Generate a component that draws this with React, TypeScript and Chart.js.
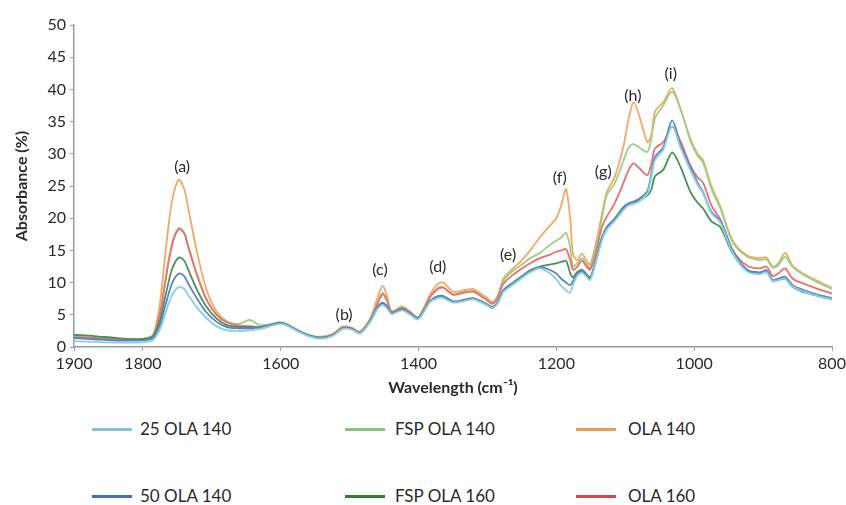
import React, { useEffect, useRef } from "react";
import { Chart, registerables } from "chart.js";

Chart.register(...registerables);

const WAVENUMBER = [
  1900, 1870, 1840, 1810, 1795, 1785, 1775, 1768, 1758, 1748,
  1740, 1735, 1722, 1708, 1693, 1678, 1660, 1645, 1630, 1610,
  1600, 1590, 1575, 1560, 1543, 1525, 1510, 1497, 1485, 1470,
  1460, 1452, 1446, 1439, 1424, 1412, 1401, 1392, 1383, 1372,
  1364, 1350, 1335, 1321, 1311, 1300, 1293, 1285, 1277, 1263,
  1250, 1238, 1224, 1210, 1200, 1193, 1186, 1180, 1176, 1170,
  1163, 1157, 1151, 1143, 1134, 1127, 1115, 1103, 1095, 1088,
  1080, 1068, 1062, 1057, 1045, 1032, 1020, 1006, 995, 987,
  975, 962, 944, 923, 905, 895, 886, 878, 868, 857,
  840, 820, 800,
];

const OLA_140 = [
  1.4, 1.3, 1.1, 1.1, 1.3, 1.8, 7, 14, 22.5, 26,
  24.5, 22, 15, 9, 5.5, 4, 3.3, 3.2, 3.1, 3.5,
  3.7, 3.5, 2.6, 1.9, 1.6, 2.0, 3.2, 3.0, 2.4, 4.5,
  7.5, 9.5, 8.0, 5.6, 6.3, 5.5, 4.6, 6.2, 8.2, 9.8,
  10, 8.6, 8.8, 9.0, 8.4, 7.6, 7.0, 8.0, 10.6, 12.2,
  13.5, 15.0, 17, 18.8, 20, 22, 24.5, 20, 14.5, 13.5,
  14.5, 13.5, 12.8, 16, 20.5, 24, 26.5, 31, 35.5, 38,
  36, 31.8, 33, 36.5, 38, 40.2, 37, 32.5, 30, 29,
  25, 21.8, 16.5, 14.2, 13.8, 13.9, 12.5, 13, 14.6, 12.6,
  11.3, 10.2, 9.2,
];

const FSP_OLA_140 = [
  1.6, 1.5, 1.3, 1.2, 1.4, 1.9, 5.5, 10, 16, 18.5,
  17.8, 16, 11.5, 7.5, 5, 3.9, 3.6, 4.2, 3.4, 3.6,
  3.8, 3.5, 2.6, 1.9, 1.5, 1.9, 3.0, 2.9, 2.3, 4.3,
  6.8, 8.4, 7.4, 5.5, 6.1, 5.4, 4.5, 6.0, 7.9, 9.2,
  9.3, 8.2, 8.5, 8.7, 8.1, 7.3, 6.8, 7.8, 10.3, 11.8,
  12.8, 13.8, 14.6, 15.8, 16.5, 17, 17.7, 15.5, 12.5, 13,
  13.8, 13, 12.3, 15.5, 20, 23.5, 25.5, 28.8, 31, 31.5,
  31, 30.3, 32.5, 35.5, 37.5, 39.6, 37, 32.2, 29.7, 28.6,
  24.6, 21.5, 16.2, 14, 13.5, 13.6, 12.3, 12.7, 14, 12.4,
  11.1, 10, 9.0,
];

const OLA_160 = [
  1.5, 1.4, 1.2, 1.1, 1.3, 1.8, 5.3, 9.8, 15.7, 18.3,
  17.6, 15.8, 11.3, 7.4, 5, 3.8, 3.3, 3.2, 3.1, 3.5,
  3.7, 3.4, 2.5, 1.8, 1.5, 1.9, 3.0, 2.9, 2.3, 4.2,
  6.6, 8.2, 7.2, 5.4, 6.0, 5.3, 4.5, 5.9, 7.8, 9.0,
  9.2, 8.1, 8.4, 8.6, 8.0, 7.2, 6.7, 7.6, 9.8, 11.2,
  12.2, 13.0, 13.8, 14.3, 14.8, 15, 15.2, 13.5, 12, 12.4,
  13.4, 12.6, 12, 14.5, 18.6, 20.2, 22.4, 25.4, 27.5, 28.5,
  27.8, 26.7, 28.5, 30.8, 31.8, 34.2, 32, 28.3, 26.3, 25.5,
  22, 19.8, 15, 12.6, 12.2, 12.5, 11, 11.4, 12.2, 10.6,
  9.8, 9.0, 8.3,
];

const OLA_50_140 = [
  1.4, 1.2, 1.0, 1.0, 1.1, 1.4, 3.5, 6.2, 9.8, 11.4,
  11, 10, 7.6, 5.4, 3.9, 3.1, 2.9, 2.9, 3.0, 3.5,
  3.7, 3.4, 2.5, 1.8, 1.4, 1.8, 2.9, 2.8, 2.2, 4.0,
  6.0, 6.8, 6.2, 5.2, 5.8, 5.1, 4.4, 5.6, 7.1, 7.8,
  7.8, 7.0, 7.2, 7.5, 7.1, 6.5, 6.1, 6.9, 8.7, 9.9,
  10.9, 11.8, 12.4, 12, 11.4, 10.6, 10, 9.6, 10.2, 11.3,
  11.8, 11.2, 10.6, 13.2, 16.8, 18.4, 19.8, 21.5, 22.3, 22.6,
  23, 24.2, 27, 29.5, 31, 35.2, 31.5, 28, 25.5, 24,
  21, 19.6, 15, 12, 11.6, 11.9, 10.4, 10.6, 10.9, 9.6,
  8.8, 8.1, 7.6,
];

const OLA_25_140 = [
  0.9, 0.8, 0.7, 0.7, 0.8, 1.1, 2.8, 5.0, 8.0, 9.3,
  9, 8.2, 6.2, 4.5, 3.2, 2.6, 2.5, 2.6, 2.8, 3.4,
  3.6, 3.3, 2.4, 1.7, 1.3, 1.7, 2.8, 2.7, 2.1, 3.9,
  5.8, 6.5, 6.0, 5.1, 5.7, 5.0, 4.3, 5.5, 7.0, 7.6,
  7.6, 6.9, 7.1, 7.4, 7.0, 6.4, 6.0, 6.8, 8.5, 9.7,
  10.7, 11.6, 12.2, 11.5, 10.5, 9.5, 8.8, 8.4, 9.6, 11,
  11.5, 11, 10.4, 13, 16.5, 18.2, 19.6, 21.2, 22, 22.2,
  22.6, 23.8, 26.5, 29, 30.6, 34.3, 31, 27.6, 25.2, 23.8,
  20.8, 19.3, 14.6, 11.7, 11.3, 11.6, 10.2, 10.4, 10.6, 9.4,
  8.6, 7.9, 7.4,
];

const FSP_OLA_160 = [
  1.9, 1.7, 1.4, 1.2, 1.3, 1.7, 4.2, 7.6, 12, 13.9,
  13.4, 12.2, 9.0, 6.3, 4.4, 3.4, 3.1, 3.1, 3.1, 3.6,
  3.8, 3.4, 2.5, 1.8, 1.4, 1.8, 2.9, 2.8, 2.2, 4.1,
  6.1, 6.9, 6.3, 5.3, 5.9, 5.2, 4.5, 5.7, 7.2, 7.9,
  7.9, 7.1, 7.3, 7.6, 7.2, 6.6, 6.2, 7.0, 8.8, 10,
  11, 11.9, 12.5, 12.8, 13, 13.2, 13.4, 11.5, 10.8, 11.6,
  12, 11.4, 10.8, 13.4, 17, 18.6, 20, 21.7, 22.3, 22.5,
  22.8, 23.5, 24.5, 26.5, 27.5, 30.2, 28, 24.2, 22.4, 21.5,
  19.5, 18.6, 14.5, 11.8, 11.4, 11.7, 10.2, 10.4, 10.6, 9.3,
  8.5, 7.9, 7.4,
];

const SERIES_NAMES = ["25 OLA 140", "50 OLA 140", "FSP OLA 160", "OLA 160", "FSP OLA 140", "OLA 140"];
const SERIES_VALUES = [OLA_25_140, OLA_50_140, FSP_OLA_160, OLA_160, FSP_OLA_140, OLA_140];
const SERIES_COLORS = ["#8ccfe2", "#5a82c6", "#4a8f55", "#ea7070", "#9cd087", "#f5a865"];

const LEGEND_ORDER = ["25 OLA 140", "FSP OLA 140", "OLA 140", "50 OLA 140", "FSP OLA 160", "OLA 160"];
const LEGEND_COLORS = ["#82c3d8", "#8fc27a", "#f09a50", "#4a6fb0", "#357a45", "#d94848"];

const X_TICK_STEP = 200;
const Y_TICK_STEP = 5;

const PEAK_LABELS = ["(a)", "(b)", "(c)", "(d)", "(e)", "(f)", "(g)", "(h)", "(i)"];
const PEAK_X = [1743, 1508, 1456, 1372, 1270, 1195, 1132, 1089, 1034];
const PEAK_Y = [27.9, 5.0, 12.0, 12.4, 14.3, 26.2, 27.2, 39.0, 42.4];

const FONT = "Lato, 'Noto Sans', sans-serif";
const TEXT_COLOR = "#2a2a2a";

const peakLabelPlugin = {
  id: "peakLabels",
  afterDatasetsDraw(chart: any) {
    const { ctx, scales } = chart;
    ctx.save();
    ctx.font = `16px ${FONT}`;
    ctx.fillStyle = TEXT_COLOR;
    ctx.textAlign = "center";
    ctx.textBaseline = "middle";
    PEAK_LABELS.forEach((t, i) => {
      const x = scales.x.getPixelForValue(PEAK_X[i]);
      const y = scales.y.getPixelForValue(PEAK_Y[i]);
      ctx.fillText(t, x, y);
    });
    ctx.restore();
  },
};

export default function App() {
  const ref = useRef<HTMLCanvasElement>(null);

  useEffect(() => {
    if (!ref.current) return;
    const datasets = SERIES_NAMES.map((name, si) => ({
      label: name,
      data: WAVENUMBER.map((x, i) => ({ x, y: SERIES_VALUES[si][i] })),
      borderColor: SERIES_COLORS[si],
      backgroundColor: SERIES_COLORS[si],
      borderWidth: 1.8,
      pointRadius: 0,
      tension: 0.3,
      fill: false,
    }));
    const chart = new Chart(ref.current, {
      type: "line",
      data: { datasets },
      plugins: [peakLabelPlugin],
      options: {
        animation: false,
        responsive: false,
        maintainAspectRatio: false,
        layout: { padding: { top: 25, right: 14, left: 0, bottom: 0 } },
        plugins: { legend: { display: false }, tooltip: { enabled: false } },
        scales: {
          x: {
            type: "linear",
            reverse: true,
            min: 800,
            max: 1900,
            ticks: {
              stepSize: X_TICK_STEP,
              autoSkip: false,
              maxRotation: 0,
              padding: 3,
              color: TEXT_COLOR,
              font: { family: FONT, size: 16 },
              callback: (v: any) => String(v),
            },
            grid: { drawOnChartArea: false, tickLength: 4, color: "#9a9a9a" },
            border: { color: "#9a9a9a", width: 1.5 },
            title: {
              display: true,
              text: "Wavelength (cm⁻¹)",
              color: TEXT_COLOR,
              font: { family: FONT, size: 16, weight: "bold" },
              padding: { top: 0, bottom: 3 },
            },
            afterFit: (s: any) => {
              s.height = 53;
              s.paddingRight = 0;
              s.paddingLeft = 0;
            },
          },
          y: {
            min: 0,
            max: 50,
            ticks: {
              stepSize: Y_TICK_STEP,
              padding: 4,
              color: TEXT_COLOR,
              font: { family: FONT, size: 16 },
              callback: (v: any) => String(v),
            },
            grid: { drawOnChartArea: false, tickLength: 4, color: "#9a9a9a" },
            border: { color: "#9a9a9a", width: 1.5 },
            title: {
              display: true,
              text: "Absorbance (%)",
              color: TEXT_COLOR,
              font: { family: FONT, size: 16, weight: "bold" },
              padding: { top: 12, bottom: 0 },
            },
            afterFit: (s: any) => {
              s.width = 74;
            },
          },
        },
      },
    });
    return () => chart.destroy();
  }, []);

  const colX = [[92, 140], [345, 395], [576, 628]];
  const rowY = [429, 496];

  return (
    <div style={{ position: "absolute", left: 0, top: 0, width: 846, height: 505, background: "#fff", overflow: "hidden" }}>
      <canvas ref={ref} width={846} height={400} style={{ position: "absolute", left: 0, top: 0 }} />
      {LEGEND_ORDER.map((name, i) => {
        const col = i % 3;
        const row = Math.floor(i / 3);
        const [lx, tx] = colX[col];
        const y = rowY[row];
        return (
          <React.Fragment key={name}>
            <div style={{ position: "absolute", left: lx, top: y - 1.5, width: 40, height: 3, background: LEGEND_COLORS[i] }} />
            <div
              style={{
                position: "absolute",
                left: tx,
                top: y - 11,
                height: 22,
                lineHeight: "22px",
                fontFamily: FONT,
                fontSize: 17,
                color: TEXT_COLOR,
                whiteSpace: "nowrap",
              }}
            >
              {name}
            </div>
          </React.Fragment>
        );
      })}
    </div>
  );
}
